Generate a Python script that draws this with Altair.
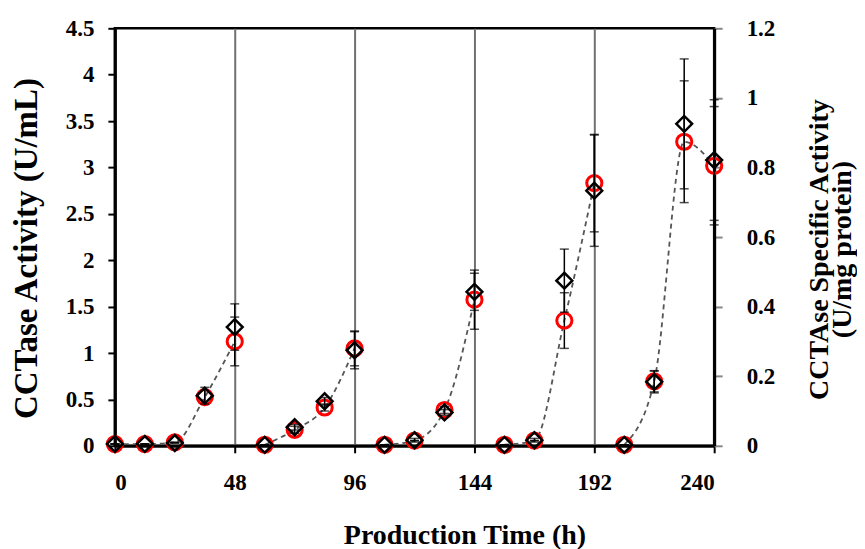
import altair as alt
import pandas as pd

hours = [0, 12, 24, 36, 48, 60, 72, 84, 96, 108, 120, 132, 144,
         156, 168, 180, 192, 204, 216, 228, 240]
cycle = [1, 1, 1, 1, 1, 2, 2, 2, 2, 3, 3, 3, 3, 4, 4, 4, 4, 5, 5, 5, 5]

# CCTase activity (U/mL) - black diamonds, left axis
activity = [0.02, 0.02, 0.03, 0.54, 1.28, 0.01, 0.20, 0.48, 1.03,
            0.01, 0.06, 0.36, 1.66, 0.01, 0.06, 1.78, 2.75,
            0.01, 0.69, 3.47, 3.08]
activity_err = [0, 0, 0, 0.09, 0.25, 0, 0.03, 0.04, 0.20,
                0, 0.02, 0.03, 0.20, 0, 0.02, 0.34, 0.60,
                0, 0.12, 0.70, 0.65]

# CCTase specific activity (U/mg protein) - red circles, right axis
specific = [0.005, 0.005, 0.01, 0.14, 0.30, 0.003, 0.046, 0.11, 0.28,
            0.003, 0.015, 0.103, 0.42, 0.003, 0.015, 0.36, 0.755,
            0.003, 0.185, 0.874, 0.805]
specific_err = [0, 0, 0, 0.02, 0.07, 0, 0.01, 0.01, 0.05,
                0, 0, 0.01, 0.085, 0, 0, 0.08, 0.14,
                0, 0.03, 0.175, 0.17]

x_ticks = [0, 48, 96, 144, 192, 240]
left_ticks = [0, 0.5, 1, 1.5, 2, 2.5, 3, 3.5, 4, 4.5]
right_ticks = [0, 0.2, 0.4, 0.6, 0.8, 1.0, 1.2]

df = pd.DataFrame({
    "hour": hours, "cycle": cycle,
    "activity": activity, "activity_err": activity_err,
    "specific": specific, "specific_err": specific_err,
})
df["act_lo"] = df["activity"] - df["activity_err"]
df["act_hi"] = df["activity"] + df["activity_err"]
df["spec_lo"] = df["specific"] - df["specific_err"]
df["spec_hi"] = df["specific"] + df["specific_err"]

FONT = "Liberation Serif"

x_enc = alt.X(
    "hour:Q",
    scale=alt.Scale(domain=[0, 240], nice=False),
    axis=alt.Axis(values=x_ticks, title="Production Time (h)", grid=True,
                  gridColor="#707070", gridWidth=2, tickSize=7,
                  labelPadding=19, titlePadding=27, labelFontSize=23,
                  titleFontSize=28, titleX=350, titleAlign="center"),
)

spec_scale = alt.Scale(domain=[0, 1.2], nice=False)
act_scale = alt.Scale(domain=[0, 4.5], nice=False)

right_axis = alt.Axis(orient="right", values=right_ticks, format=".1~f",
                      title=["CCTAse Specific Activity", "(U/mg protein)"],
                      titleAngle=270, tickSize=8, tickColor="#888888",
                      labelPadding=24, titlePadding=36, grid=False,
                      labelFontSize=23, titleFontSize=28, titleLineHeight=23,
                      titleY=221)
left_axis = alt.Axis(orient="left", values=left_ticks, format=".1~f",
                     title="CCTase Activity (U/mL)", tickSize=7,
                     labelPadding=14, titlePadding=22, grid=False,
                     labelFontSize=23, titleFontSize=33, titleY=220)

base = alt.Chart(df)

line = base.mark_line(strokeDash=[5, 4], color="#555555", strokeWidth=1.8,
                      interpolate="monotone").encode(
    x=x_enc,
    y=alt.Y("specific:Q", scale=spec_scale, axis=right_axis),
    detail="cycle:N",
)

spec_err = base.mark_errorbar(
    ticks={"size": 9, "thickness": 1.5, "color": "black"},
    rule={"strokeWidth": 1.5, "color": "black"},
).encode(
    x=x_enc,
    y=alt.Y("spec_lo:Q", scale=spec_scale, axis=right_axis),
    y2="spec_hi:Q",
)

circles = base.mark_point(shape="circle", size=230, filled=False,
                          color="#ff0000", strokeWidth=3, opacity=1).encode(
    x=x_enc,
    y=alt.Y("specific:Q", scale=spec_scale, axis=right_axis),
)

act_err = base.mark_errorbar(
    ticks={"size": 9, "thickness": 1.5, "color": "black"},
    rule={"strokeWidth": 1.5, "color": "black"},
).encode(
    x=x_enc,
    y=alt.Y("act_lo:Q", scale=act_scale, axis=left_axis),
    y2="act_hi:Q",
)

diamonds = base.mark_point(shape="diamond", size=250, filled=False,
                           color="black", strokeWidth=2.5, opacity=1).encode(
    x=x_enc,
    y=alt.Y("activity:Q", scale=act_scale, axis=left_axis),
)

right_group = alt.layer(line, spec_err, circles)
left_group = alt.layer(act_err, diamonds)

chart = alt.layer(right_group, left_group).resolve_scale(
    y="independent"
).properties(
    width=600, height=418,
    padding={"left": 2, "top": 9, "right": 0, "bottom": 5},
).configure_view(
    stroke="black", strokeWidth=2.5
).configure_axis(
    labelFont=FONT, titleFont=FONT, labelFontWeight="bold",
    titleFontWeight="bold", labelColor="black", titleColor="black",
    domainColor="black", domainWidth=3, tickColor="black", tickWidth=2,
)

chart.save("out.html", embed_options={"renderer": "svg", "actions": False})
